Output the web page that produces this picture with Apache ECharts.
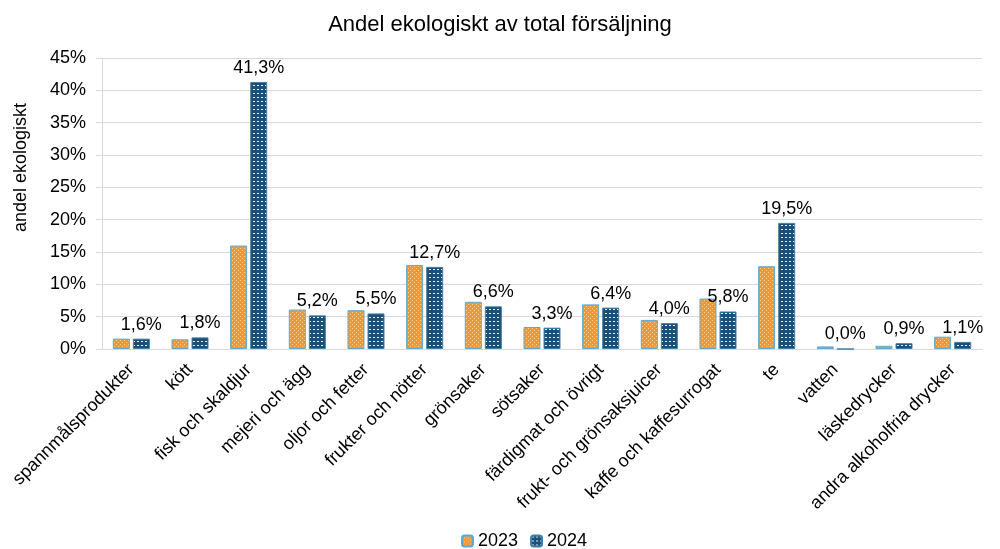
<!DOCTYPE html>
<html>
<head>
	<meta charset="utf-8"/>
	<title>Andel ekologiskt</title>
	<style>
		* { margin: 0; padding: 0; }
		html, body { width: 1000px; height: 549px; background: #fff; }
		#main { width: 1000px; height: 549px; }
	</style>
</head>
<body>
	<div id="main"></div>
	<script src="https://cdn.jsdelivr.net/npm/echarts@6/dist/echarts.min.js"></script>
	<script>
		var categories = ['spannmålsprodukter', 'kött', 'fisk och skaldjur', 'mejeri och ägg', 'oljor och fetter',
			'frukter och nötter', 'grönsaker', 'sötsaker', 'färdigmat och övrigt', 'frukt- och grönsaksjuicer',
			'kaffe och kaffesurrogat', 'te', 'vatten', 'läskedrycker', 'andra alkoholfria drycker'];
		var values2023 = [1.6, 1.5, 16.0, 6.1, 6.0, 13.0, 7.3, 3.4, 6.9, 4.5, 7.8, 12.8, 0.4, 0.5, 1.9];
		var values2024 = [1.6, 1.8, 41.3, 5.2, 5.5, 12.7, 6.6, 3.3, 6.4, 4.0, 5.8, 19.5, 0.0, 0.9, 1.1];

		// små mönsterrutor för staplarna
		function makePattern(bg, fg, dots) {
			var c = document.createElement('canvas');
			c.width = 4; c.height = 4;
			var ctx = c.getContext('2d');
			ctx.fillStyle = bg;
			ctx.fillRect(0, 0, 4, 4);
			ctx.fillStyle = fg;
			dots.forEach(function (d) { ctx.fillRect(d[0], d[1], d[2], d[3]); });
			return { image: c, repeat: 'repeat' };
		}
		var pat2023 = makePattern('#f5962e', '#fcd29a', [[0, 0, 1, 1], [2, 2, 1, 1]]);
		var pat2024 = makePattern('#1d4e76', '#e8eef4', [[1, 1, 2, 1]]);

		var myChart = echarts.init(document.getElementById('main'));
		var font = 'Liberation Sans, Arial, sans-serif';

		var option = {
			animation: false,
			textStyle: { fontFamily: font },
			title: {
				text: 'Andel ekologiskt av total försäljning',
				left: 'center',
				top: 9,
				textStyle: { fontSize: 22, fontWeight: 'normal', color: '#000', fontFamily: font }
			},
			legend: {
				top: 527,
				left: 456,
				itemWidth: 11,
				itemHeight: 11,
				itemGap: 12,
				textStyle: { fontSize: 18, color: '#000' },
				data: ['2023', '2024']
			},
			grid: {
				left: 102,
				right: 18,
				top: 58,
				bottom: 200
			},
			xAxis: {
				type: 'category',
				data: categories,
				axisLine: { lineStyle: { color: '#d9d9d9' } },
				axisTick: { show: false },
				axisLabel: {
					interval: 0,
					rotate: 45,
					margin: 18,
					fontSize: 18,
					color: '#000'
				}
			},
			yAxis: {
				type: 'value',
				min: 0,
				max: 45,
				interval: 5,
				name: 'andel ekologiskt',
				nameLocation: 'middle',
				nameGap: 72,
				nameRotate: 90,
				nameTextStyle: { fontSize: 18, color: '#000', padding: [0, 0, 0, 72] },
				axisLine: { show: true, lineStyle: { color: '#d9d9d9' } },
				axisTick: { show: true, length: 6, lineStyle: { color: '#d9d9d9' } },
				axisLabel: {
					formatter: '{value}%',
					fontSize: 18,
					color: '#000',
					margin: 16
				},
				splitLine: { lineStyle: { color: '#d9d9d9' } }
			},
			series: [
				{
					name: '2023',
					type: 'bar',
					data: values2023,
					barWidth: 17,
					barGap: '18%',
					itemStyle: { color: pat2023, borderColor: '#5aa9d6', borderWidth: 1 }
				},
				{
					name: '2024',
					type: 'bar',
					data: values2024,
					barWidth: 17,
					itemStyle: { color: pat2024, borderColor: '#3f7ea8', borderWidth: 1 },
					label: {
						show: true,
						position: 'top',
						distance: 5,
						fontSize: 18,
						color: '#000',
						formatter: function (p) {
							return p.value.toFixed(1).replace('.', ',') + '%';
						}
					}
				}
			]
		};

		myChart.setOption(option);
	</script>
</body>
</html>
